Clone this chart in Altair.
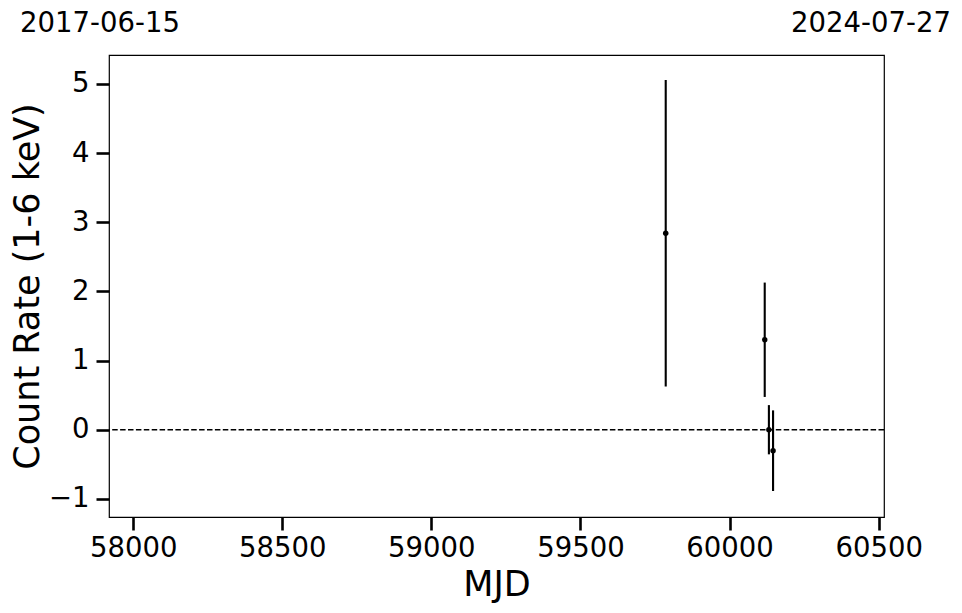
import altair as alt
import pandas as pd

# Data
mjd = [59786, 60118, 60132, 60146]
rate = [2.842, 1.301, 0.0, -0.303]
err = [2.216, 0.827, 0.356, 0.583]

x_domain = [57919, 60518]
y_domain = [-1.262, 5.419]
x_ticks = [58000, 58500, 59000, 59500, 60000, 60500]
y_ticks = [-1, 0, 1, 2, 3, 4, 5]

date_labels = ["2017-06-15", "2024-07-27"]
date_mjd = [57919, 60518]
date_dx = [-9, -13]

df = pd.DataFrame({"mjd": mjd, "rate": rate, "err": err})
df["lo"] = df["rate"] - df["err"]
df["hi"] = df["rate"] + df["err"]

FONT = "DejaVu Sans"

xscale = alt.Scale(domain=x_domain, nice=False, zero=False)
yscale = alt.Scale(domain=y_domain, nice=False, zero=False)

xaxis = alt.Axis(values=x_ticks, format="d", title="MJD", grid=False, domain=False,
                 tickSize=13, tickWidth=2.6, tickColor="black",
                 labelFontSize=27.5, labelFont=FONT, labelColor="black", labelPadding=4,
                 titleFontSize=35, titleFont=FONT, titleFontWeight="normal",
                 titleColor="black", titlePadding=6, labelFlush=False)
yaxis = alt.Axis(values=y_ticks, format="d", title="Count Rate (1-6 keV)", grid=False,
                 domain=False, tickSize=13, tickWidth=2.6, tickColor="black",
                 labelFontSize=27.5, labelFont=FONT, labelColor="black", labelPadding=7,
                 titleFontSize=35, titleFont=FONT, titleFontWeight="normal",
                 titleColor="black", titlePadding=3, labelFlush=False)

base = alt.Chart(df)

bars = base.mark_rule(color="black", strokeWidth=2.1).encode(
    x=alt.X("mjd:Q", scale=xscale, axis=xaxis),
    y=alt.Y("lo:Q", scale=yscale, axis=yaxis),
    y2="hi:Q",
)

points = base.mark_circle(color="black", size=30, opacity=1).encode(
    x=alt.X("mjd:Q", scale=xscale),
    y=alt.Y("rate:Q", scale=yscale),
)

zero = alt.Chart(pd.DataFrame({"z": [0]})).mark_rule(
    color="black", strokeWidth=1.5, strokeDash=[5.5, 2.4]
).encode(y=alt.Y("z:Q", scale=yscale))

labels_df = pd.DataFrame({"mjd": date_mjd, "label": date_labels})
top_left = alt.Chart(labels_df.iloc[[0]]).mark_text(
    fontSize=27.5, font=FONT, color="black", align="center", baseline="alphabetic",
    dx=date_dx[0]
).encode(x=alt.X("mjd:Q", scale=xscale), y=alt.value(-23), text="label:N")
top_right = alt.Chart(labels_df.iloc[[1]]).mark_text(
    fontSize=27.5, font=FONT, color="black", align="center", baseline="alphabetic",
    dx=date_dx[1]
).encode(x=alt.X("mjd:Q", scale=xscale), y=alt.value(-23), text="label:N")

chart = alt.layer(zero, bars, points, top_left, top_right).properties(
    width=775, height=462,
    autosize=alt.AutoSizeParams(type="none"),
    padding={"left": 101, "top": 47, "right": 70, "bottom": 88},
    background="white",
).configure_view(stroke="black", strokeWidth=1.2)

chart.save("out.html", embed_options={"renderer": "svg", "actions": False})
